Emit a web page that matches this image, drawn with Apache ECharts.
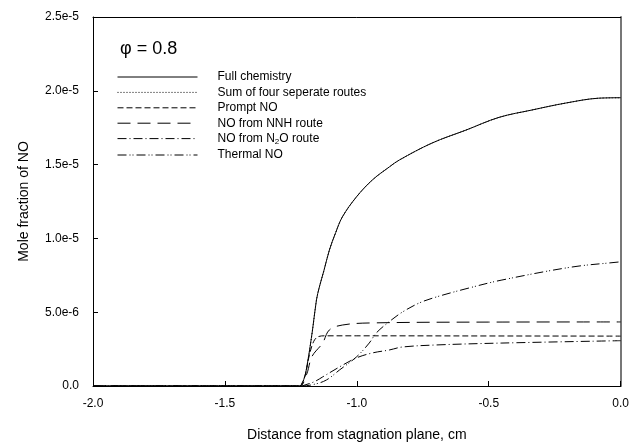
<!DOCTYPE html>
<html>
<head>
<meta charset="utf-8">
<script src="https://cdn.jsdelivr.net/npm/echarts@6/dist/echarts.min.js"></script>
<style>
  html, body { margin: 0; padding: 0; background: #fff; }
  #chart { width: 632px; height: 447px; }
</style>
</head>
<body>
<div id="chart"></div>
<script>
// 系列名称
const seriesNames = ['Full chemistry', 'Sum of four seperate routes', 'Prompt NO', 'NO from NNH route', 'NO from N2O route', 'Thermal NO'];

// Full chemistry (x cm, y 1e-6)
const xFull = [-2.0, -1.25, -1.217, -1.2, -1.187, -1.168, -1.153, -1.142, -1.125, -1.104, -1.08, -1.055, -1.002, -0.941, -0.877, -0.839, -0.715, -0.586, -0.461, -0.336, -0.208, -0.083, 0];
const yFull = [0, 0, 0, 0.5, 1.56, 3.79, 5.83, 6.71, 7.8, 9.21, 10.4, 11.45, 12.8, 13.96, 14.84, 15.31, 16.46, 17.34, 18.2, 18.7, 19.17, 19.5, 19.53];

// Sum of four separate routes (overlaps full chemistry)
const xSum = [-2.0, -1.25, -1.217, -1.2, -1.187, -1.168, -1.153, -1.142, -1.125, -1.104, -1.08, -1.055, -1.002, -0.941, -0.877, -0.839, -0.715, -0.586, -0.461, -0.336, -0.208, -0.083, 0];
const ySum = [0, 0, 0, 0.5, 1.56, 3.79, 5.83, 6.71, 7.8, 9.21, 10.4, 11.45, 12.8, 13.96, 14.84, 15.31, 16.46, 17.34, 18.2, 18.7, 19.17, 19.5, 19.53];

// Prompt NO
const xPrompt = [-2.0, -1.25, -1.217, -1.205, -1.195, -1.18, -1.164, -1.149, -1.123, -1.0, -0.5, 0];
const yPrompt = [0, 0, 0, 0.3, 0.75, 2.1, 3.0, 3.32, 3.4, 3.4, 3.39, 3.38];

// NO from NNH route
const xNNH = [-2.0, -1.25, -1.215, -1.19, -1.17, -1.13, -1.104, -1.055, -0.953, -0.5, 0];
const yNNH = [0, 0, 0, 0.8, 2.0, 2.9, 3.8, 4.13, 4.27, 4.33, 4.34];

// NO from N2O route
const xN2O = [-2.0, -1.25, -1.21, -1.2, -1.16, -1.13, -1.066, -1.002, -0.941, -0.877, -0.828, -0.699, -0.45, 0];
const yN2O = [0, 0, 0, 0.05, 0.3, 0.61, 1.29, 1.9, 2.24, 2.44, 2.64, 2.78, 2.91, 3.07];

// Thermal NO
const xThermal = [-2.0, -1.25, -1.21, -1.16, -1.115, -1.066, -1.002, -0.953, -0.926, -0.877, -0.828, -0.764, -0.699, -0.575, -0.45, -0.185, -0.008, 0];
const yThermal = [0, 0, 0, 0.12, 0.41, 1.08, 1.96, 2.91, 3.6, 4.36, 5.0, 5.62, 6.03, 6.64, 7.18, 8.06, 8.4, 8.42];

// 线型
const dashTypes = ['solid', [1, 2], [6, 3], [13, 7], [9, 3, 1, 3], [9, 3, 1, 2, 1, 3]];

const chart = echarts.init(document.getElementById('chart'));

function pairs(xs, ys) {
  return xs.map((x, i) => [x, ys[i] * 1e-6]);
}

const allData = [
  pairs(xFull, yFull),
  pairs(xSum, ySum),
  pairs(xPrompt, yPrompt),
  pairs(xNNH, yNNH),
  pairs(xN2O, yN2O),
  pairs(xThermal, yThermal)
];

const font = 'Liberation Sans, Arial, sans-serif';

// 外框（上、右）用的辅助轴
const frameAxis = {
  type: 'value',
  axisTick: { show: false },
  axisLabel: { show: false },
  splitLine: { show: false }
};

const option = {
  animation: false,
  backgroundColor: '#fff',
  textStyle: { fontFamily: font, color: '#000' },
  title: {
    text: 'φ = 0.8',
    left: 115,
    top: 35,
    textStyle: { fontFamily: font, fontSize: 18, fontWeight: 'normal', color: '#000' }
  },
  legend: {
    orient: 'vertical',
    left: 112,
    top: 66,
    itemWidth: 80,
    itemHeight: 12,
    itemGap: 3.4,
    data: seriesNames,
    itemStyle: { color: 'rgba(0,0,0,0)', borderWidth: 0, opacity: 0 },
    lineStyle: { width: 1 },
    formatter: function (name) {
      return name === 'NO from N2O route' ? 'NO from N{sub|2}O route' : name;
    },
    textStyle: {
      fontFamily: font,
      fontSize: 12,
      color: '#000',
      padding: [0, 0, 0, 15],
      rich: {
        sub: { fontSize: 8, verticalAlign: 'bottom', padding: [6, 0, 0, 0], fontFamily: font, color: '#000' }
      }
    }
  },
  grid: {
    left: 93,
    right: 10,
    top: 17,
    bottom: 61,
    show: false
  },
  xAxis: [
    {
      type: 'value',
      min: -2.0,
      max: 0,
      interval: 0.5,
      name: 'Distance from stagnation plane, cm',
      nameLocation: 'middle',
      nameGap: 42,
      nameTextStyle: { fontFamily: font, fontSize: 14, color: '#000' },
      axisLine: { onZero: false, lineStyle: { color: '#000', width: 1 } },
      axisTick: { inside: true, length: 5, lineStyle: { color: '#000' } },
      axisLabel: {
        fontFamily: font, fontSize: 12, color: '#000', margin: 12,
        formatter: v => v.toFixed(1)
      },
      splitLine: { show: false }
    },
    Object.assign({}, frameAxis, {
      position: 'top', min: -2.0, max: 0, interval: 0.5,
      axisLine: { show: true, onZero: false, lineStyle: { color: '#000', width: 1 } }
    })
  ],
  yAxis: [
    {
      type: 'value',
      min: 0,
      max: 2.5e-5,
      interval: 5e-6,
      name: 'Mole fraction of NO',
      nameLocation: 'middle',
      nameGap: 62,
      nameTextStyle: { fontFamily: font, fontSize: 14, color: '#000' },
      axisLine: { show: true, onZero: false, lineStyle: { color: '#000', width: 1 } },
      axisTick: { show: true, inside: true, length: 5, lineStyle: { color: '#000' } },
      axisLabel: {
        fontFamily: font, fontSize: 12, color: '#000', margin: 14,
        formatter: v => (v === 0 ? '0.0' : v.toExponential(1))
      },
      splitLine: { show: false }
    },
    Object.assign({}, frameAxis, {
      position: 'right', min: 0, max: 2.5e-5, interval: 5e-6,
      axisLine: { show: true, onZero: false, lineStyle: { color: '#777', width: 2 } }
    })
  ],
  series: seriesNames.map((name, i) => ({
    name: name,
    type: 'line',
    data: allData[i],
    symbol: 'circle',
    showSymbol: false,
    smooth: 0.35,
    z: 10 - i,
    lineStyle: { color: '#000', width: 1, type: dashTypes[i] },
    itemStyle: { color: '#000' }
  }))
};

chart.setOption(option);
</script>
</body>
</html>
